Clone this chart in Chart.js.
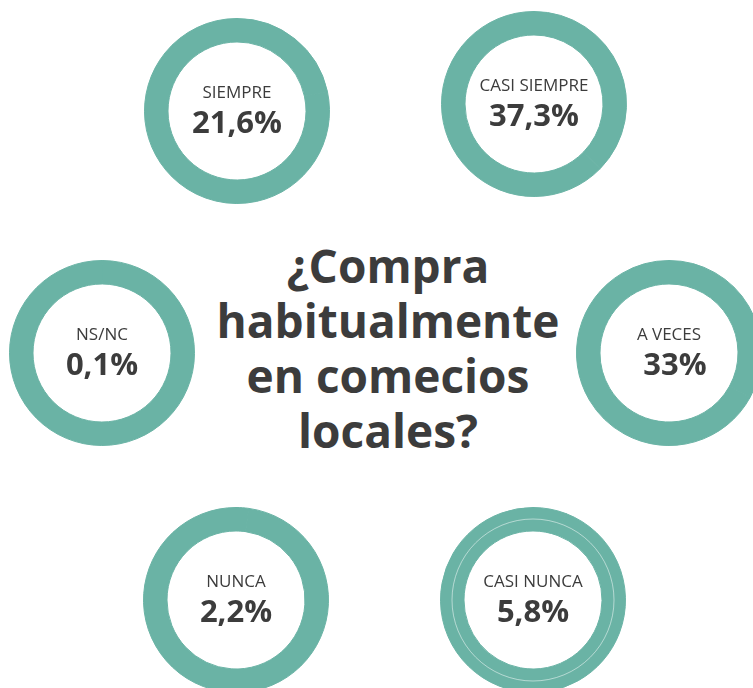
<!DOCTYPE html>
<html>
<head>
<meta charset="utf-8">
<script src="https://cdn.jsdelivr.net/npm/chart.js@4/dist/chart.umd.min.js"></script>
<style>
  html, body { margin: 0; padding: 0; background: #ffffff; }
  body { width: 753px; height: 688px; position: relative; overflow: hidden; font-family: "Open Sans", sans-serif; color: #3c3c3c; }
  .ring { position: absolute; width: 190px; height: 190px; }
  .lbl { position: absolute; width: 200px; text-align: center; font-size: 17px; line-height: 17px; font-weight: 400; white-space: nowrap; }
  .val { position: absolute; width: 200px; text-align: center; font-size: 31px; line-height: 31px; font-weight: 700; white-space: nowrap; }
  #title { position: absolute; left: 188px; top: 238px; width: 400px; text-align: center; font-size: 46px; line-height: 55px; font-weight: 700; }
</style>
</head>
<body>
<div id="title">¿Compra<br>habitualmente<br>en comecios<br>locales?</div>
<script>
// ---- data ----
const categories = ["SIEMPRE", "CASI SIEMPRE", "NS/NC", "A VECES", "NUNCA", "CASI NUNCA"];
const percentages = [21.6, 37.3, 0.1, 33, 2.2, 5.8];
const valueLabels = ["21,6%", "37,3%", "0,1%", "33%", "2,2%", "5,8%"];

// ---- layout (centres of each ring, text offsets) ----
const centres = [[237, 111], [534, 104], [102, 353], [669, 353], [236, 600], [533, 600]];
const valueShiftX = [0, 0, 0, 6, 0, 0];
const innerLine = [false, false, false, false, false, true];
const ringColor = "#6ab3a5";
const SIZE = 190;

const innerLinePlugin = {
  id: "innerLine",
  afterDatasetsDraw(chart, args, opts) {
    if (!opts.show) return;
    const meta = chart.getDatasetMeta(0);
    const arc = meta.data[0];
    if (!arc) return;
    const ctx = chart.ctx;
    ctx.save();
    ctx.beginPath();
    ctx.arc(arc.x, arc.y, 81, 0, Math.PI * 2);
    ctx.strokeStyle = "rgba(255,255,255,0.5)";
    ctx.lineWidth = 1;
    ctx.stroke();
    ctx.restore();
  }
};

categories.forEach((cat, i) => {
  const [cx, cy] = centres[i];
  const cv = document.createElement("canvas");
  cv.className = "ring";
  cv.width = SIZE; cv.height = SIZE;
  cv.style.left = (cx - SIZE / 2) + "px";
  cv.style.top = (cy - SIZE / 2) + "px";
  document.body.appendChild(cv);

  new Chart(cv, {
    type: "doughnut",
    data: {
      labels: [cat, "resto"],
      datasets: [{
        data: [percentages[i], +(100 - percentages[i]).toFixed(1)],
        backgroundColor: [ringColor, ringColor],
        borderColor: [ringColor, ringColor],
        borderWidth: 1
      }]
    },
    options: {
      responsive: false,
      animation: false,
      radius: 92.5,
      cutout: 70.5,
      layout: { padding: 0 },
      plugins: {
        legend: { display: false },
        tooltip: { enabled: false },
        innerLine: { show: innerLine[i] }
      }
    },
    plugins: [innerLinePlugin]
  });

  const l = document.createElement("div");
  l.className = "lbl";
  l.textContent = cat;
  l.style.left = (cx - 100) + "px";
  l.style.top = (cy - 28) + "px";
  document.body.appendChild(l);

  const v = document.createElement("div");
  v.className = "val";
  v.textContent = valueLabels[i];
  v.style.left = (cx - 100 + valueShiftX[i]) + "px";
  v.style.top = (cy - 5.5) + "px";
  document.body.appendChild(v);
});
</script>
</body>
</html>
